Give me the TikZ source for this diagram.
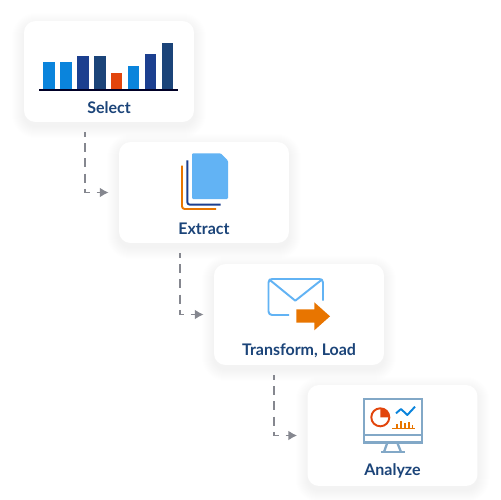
\documentclass[tikz,border=0pt]{standalone}
\usepackage{fontspec}
\setmainfont{Lato}
\usetikzlibrary{arrows.meta}
\definecolor{stepnavy}{HTML}{1B4479}
\definecolor{stepblue}{HTML}{0A84DC}
\definecolor{stepindigo}{HTML}{1C3F8F}
\definecolor{stepred}{HTML}{E2450C}
\definecolor{steporange}{HTML}{E87500}
\definecolor{stepsky}{HTML}{62B3F4}
\definecolor{stepsteel}{HTML}{82A8C7}
\definecolor{stepgray}{HTML}{85878F}
\tikzset{
    card/.style={fill=white, rounded corners=0.23cm, minimum width=3.4cm, minimum height=2.02cm, inner sep=0pt},
    cardlabel/.style={text=stepnavy, font=\fontsize{9.1}{11}\selectfont\bfseries, inner sep=0pt},
    flow/.style={draw=stepgray, line width=1.1pt, dash pattern=on 5.1pt off 3.55pt, dash phase=2.45pt, shorten <=0.2cm, shorten >=0.2cm, -{Latex[length=5pt,width=5.6pt]}},
    iconline/.style={line width=1.1pt, line join=round}
}
% card with its soft shadow: name, centre x, centre y, label
\newcommand{\stepcard}[4]{
    \foreach \s in {1,...,12}
        \fill[black, opacity=0.004, rounded corners=0.23cm+\s*0.02cm] (#2-85-\s,#3-50.5+4-\s) rectangle (#2+85+\s,#3+50.5+4+\s);
    \node[card] (#1) at (#2,#3) {};
    \node[cardlabel] (#1label) at (#2,#3+35.8) {#4};
}
\begin{document}
\begin{tikzpicture}[x=0.02cm,y=-0.02cm]
    \useasboundingbox (0,0) rectangle (500,500);

    % Cards
    \stepcard{select}{109}{71.5}{Select}
    \stepcard{extract}{204}{192.5}{Extract}
    \stepcard{transform}{299}{314.5}{Transform, Load}
    \stepcard{analyze}{392.5}{435.5}{Analyze}

    % Connectors
    \draw[flow] ([xshift=-0.48cm]select.south) |- (extract.west);
    \draw[flow] ([xshift=-0.48cm]extract.south) |- (transform.west);
    \draw[flow] ([xshift=-0.5cm]transform.south) |- (analyze.west);

    % Bars
    \fill[stepblue] (43.3,62.3) rectangle (54.7,89.3);
    \fill[stepblue] (60,62.3) rectangle (71.7,89.3);
    \fill[stepindigo] (77.3,56) rectangle (88.7,89.3);
    \fill[stepnavy] (94,56) rectangle (105.7,89.3);
    \fill[stepred] (111,73.3) rectangle (122.3,89.3);
    \fill[stepblue] (128,66) rectangle (139.3,89.3);
    \fill[stepindigo] (145,54) rectangle (156.3,89.3);
    \fill[stepnavy] (162,43) rectangle (173.3,89.3);
    \draw[line width=1.1pt, color=black!85!blue] (39.3,89.6) -- (178.3,89.6);

    % Pages
    \fill[stepsky, rounded corners=0.6pt] (192,153.3) -- (220.7,153.3) -- (228,160.7) -- (228,199) -- (192,199) -- cycle;
    \draw[iconline, stepindigo, rounded corners=1.5pt] (187.3,160.3) -- (187.3,204.7) -- (220.7,204.7);
    \draw[iconline, steporange, rounded corners=1.5pt] (182,165.7) -- (182,209) -- (216,209);

    % Envelope
    \draw[iconline, stepsky, rounded corners=2pt] (323,300.5) -- (323,279) -- (268.5,279) -- (268.5,315) -- (289,315);
    \draw[iconline, stepsky] (269,279.3) -- (295.3,300.7) -- (322.3,279.3);
    \fill[steporange] (296.3,309.3) -- (314.3,309.3) -- (314.3,302.3) -- (330,316.3) -- (314.3,330.3) -- (314.3,322.7) -- (296.3,322.7) -- cycle;

    % Monitor
    \draw[line width=1.3pt, stepsteel] (364,399) rectangle (422,442.5);
    \draw[line width=1.3pt, stepsteel] (364,435) -- (422,435);
    \draw[line width=1.3pt, stepsteel] (387.3,442.7) -- (384,452);
    \draw[line width=1.3pt, stepsteel] (397.3,442.7) -- (401,452);
    \draw[line width=1.3pt, stepsteel] (381,452) -- (405,452);
    \draw[iconline, stepred] (380.3,417.3) circle (9);
    \fill[stepred] (380.3,417.3) -- (380.3,408) arc[start angle=90, end angle=0, x radius=9.3, y radius=-9.3] -- cycle;
    \draw[iconline, stepblue] (396,413.3) -- (401,409) -- (407.3,415) -- (415,406.7);
    \draw[line width=0.8pt, steporange] (392.3,428.7) -- (414.7,428.7);
    \draw[line width=0.8pt, steporange] (397,428.7) -- (397,424);
    \draw[line width=0.8pt, steporange] (400.8,428.7) -- (400.8,420.7);
    \draw[line width=0.8pt, steporange] (405,428.7) -- (405,422.7);
    \draw[line width=0.8pt, steporange] (409,428.7) -- (409,421.7);
    \draw[line width=0.8pt, steporange] (412.3,428.7) -- (412.3,425);
\end{tikzpicture}
\end{document}
